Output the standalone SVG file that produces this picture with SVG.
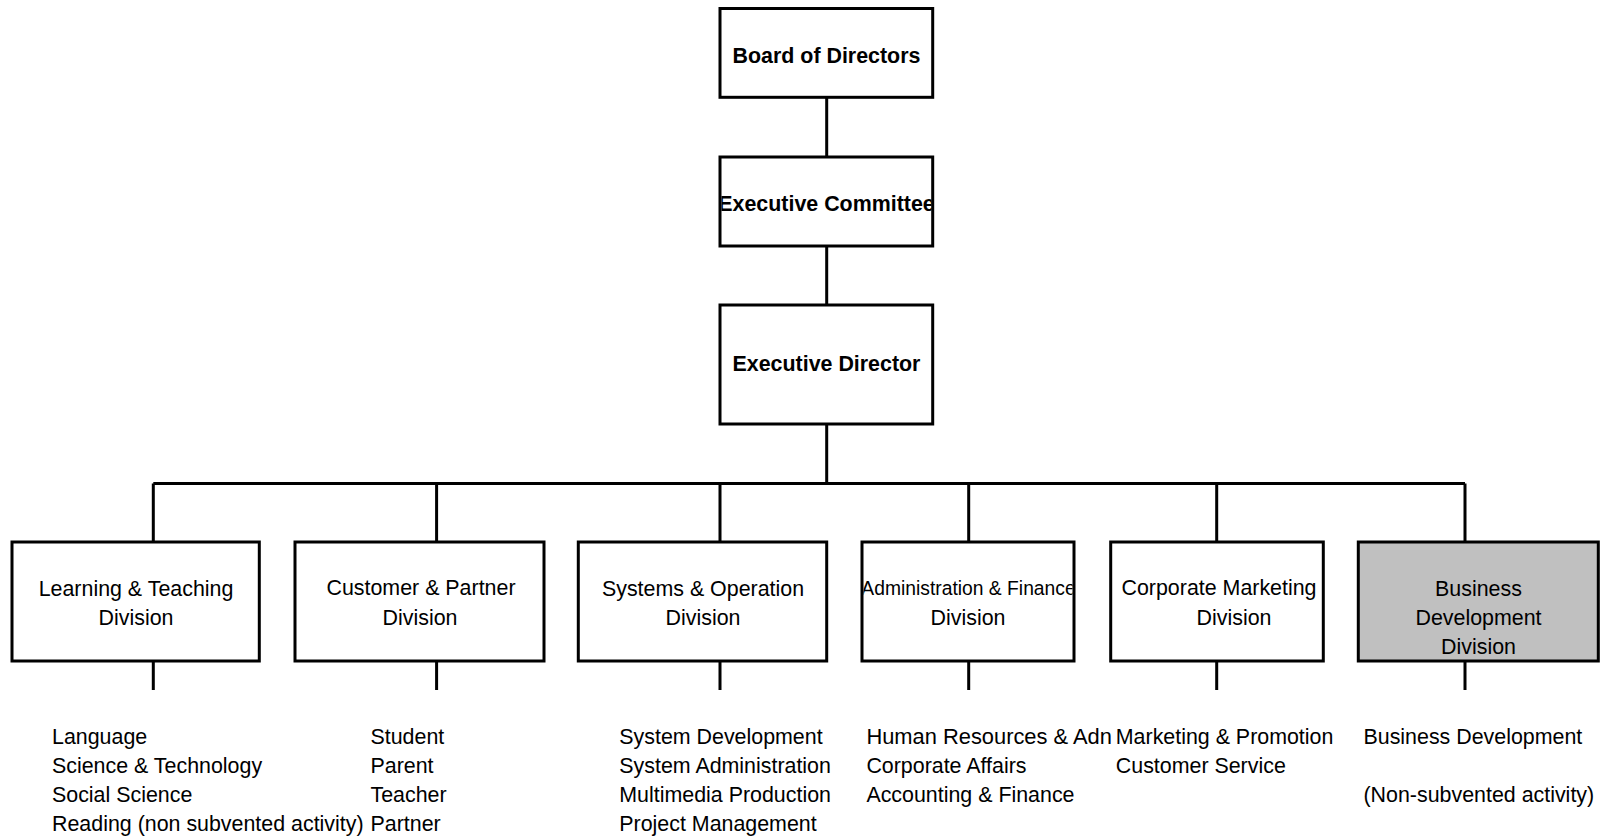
<svg xmlns="http://www.w3.org/2000/svg" width="1600" height="840" viewBox="0 0 1600 840">
<style>
.box{fill:#fff;stroke:#000;stroke-width:3}
.gray{fill:#c0c0c0;stroke:#000;stroke-width:3}
.ln{stroke:#000;stroke-width:3;fill:none}
text{font-family:"Liberation Sans",Arial,sans-serif;font-size:21.4px;fill:#000}
.b{font-weight:bold}
.c{text-anchor:middle}
</style>
<defs>
<clipPath id="clipEC"><rect x="721.5" y="158.5" width="210" height="86"/></clipPath>
<clipPath id="clipAF"><rect x="863.5" y="543.5" width="209" height="116"/></clipPath>
</defs>
<rect width="1600" height="840" fill="#fff"/>
<g id="connectors">
<path class="ln" d="M826.7,97 V157 M826.7,246 V305 M826.7,424 V483.5"/>
<path class="ln" d="M153.3,483.5 H1465"/>
<path class="ln" d="M153.3,483.5 V542 M436.6,483.5 V542 M720,483.5 V542 M968.7,483.5 V542 M1216.7,483.5 V542 M1465,483.5 V542"/>
<path class="ln" d="M153.3,661 V690 M436.6,661 V690 M720,661 V690 M968.7,661 V690 M1216.7,661 V690 M1465,661 V690"/>
</g>
<g id="board">
<rect class="box" x="720" y="8.5" width="212.7" height="88.8"/>
<text class="b c" x="826.5" y="63">Board of Directors</text>
</g>
<g id="committee">
<rect class="box" x="720" y="157" width="212.7" height="89"/>
<text class="b c" x="826.5" y="211" clip-path="url(#clipEC)">Executive Committee</text>
</g>
<g id="director">
<rect class="box" x="720" y="305" width="212.7" height="119"/>
<text class="b c" x="826.5" y="371">Executive Director</text>
</g>
<g id="learning">
<rect class="box" x="12" y="542" width="247.3" height="119"/>
<text class="c" x="136" y="596">Learning &amp; Teaching</text>
<text class="c" x="136" y="625">Division</text>
</g>
<g id="customer">
<rect class="box" x="295" y="542" width="249" height="119"/>
<text class="c" x="421" y="594.5">Customer &amp; Partner</text>
<text class="c" x="420" y="624.5">Division</text>
</g>
<g id="systems">
<rect class="box" x="578.3" y="542" width="248.4" height="119"/>
<text class="c" x="703" y="596">Systems &amp; Operation</text>
<text class="c" x="703" y="625">Division</text>
</g>
<g id="admin">
<rect class="box" x="862" y="542" width="212" height="119"/>
<text class="c" x="968.5" y="594.5" style="font-size:19.3px" clip-path="url(#clipAF)">Administration &amp; Finance</text>
<text class="c" x="968" y="624.5">Division</text>
</g>
<g id="marketing">
<rect class="box" x="1110.7" y="542" width="212.6" height="119"/>
<text class="c" x="1219" y="594.5">Corporate Marketing</text>
<text class="c" x="1234" y="625">Division</text>
</g>
<g id="business">
<rect class="gray" x="1358.3" y="542" width="240" height="119"/>
<text class="c" x="1478.5" y="596">Business</text>
<text class="c" x="1478.5" y="625">Development</text>
<text class="c" x="1478.5" y="654">Division</text>
</g>
<g id="list-learning">
<text x="52" y="743.5">Language</text>
<text x="52" y="773">Science &amp; Technology</text>
<text x="52" y="802">Social Science</text>
<text x="52" y="831">Reading (non subvented activity)</text>
</g>
<g id="list-customer">
<text x="370.5" y="743.5">Student</text>
<text x="370.5" y="773">Parent</text>
<text x="370.5" y="802">Teacher</text>
<text x="370.5" y="831">Partner</text>
</g>
<g id="list-systems">
<text x="619.3" y="743.5">System Development</text>
<text x="619.3" y="773">System Administration</text>
<text x="619.3" y="802">Multimedia Production</text>
<text x="619.3" y="831">Project Management</text>
</g>
<g id="list-admin">
<text x="866.4" y="743.5" textLength="245.5" lengthAdjust="spacingAndGlyphs">Human Resources &amp; Adn</text>
<text x="866.4" y="773">Corporate Affairs</text>
<text x="866.4" y="802">Accounting &amp; Finance</text>
</g>
<g id="list-marketing">
<text x="1115.8" y="743.5">Marketing &amp; Promotion</text>
<text x="1115.8" y="773">Customer Service</text>
</g>
<g id="list-business">
<text x="1363.5" y="743.5">Business Development</text>
<text x="1363.5" y="802">(Non-subvented activity)</text>
</g>
</svg>
